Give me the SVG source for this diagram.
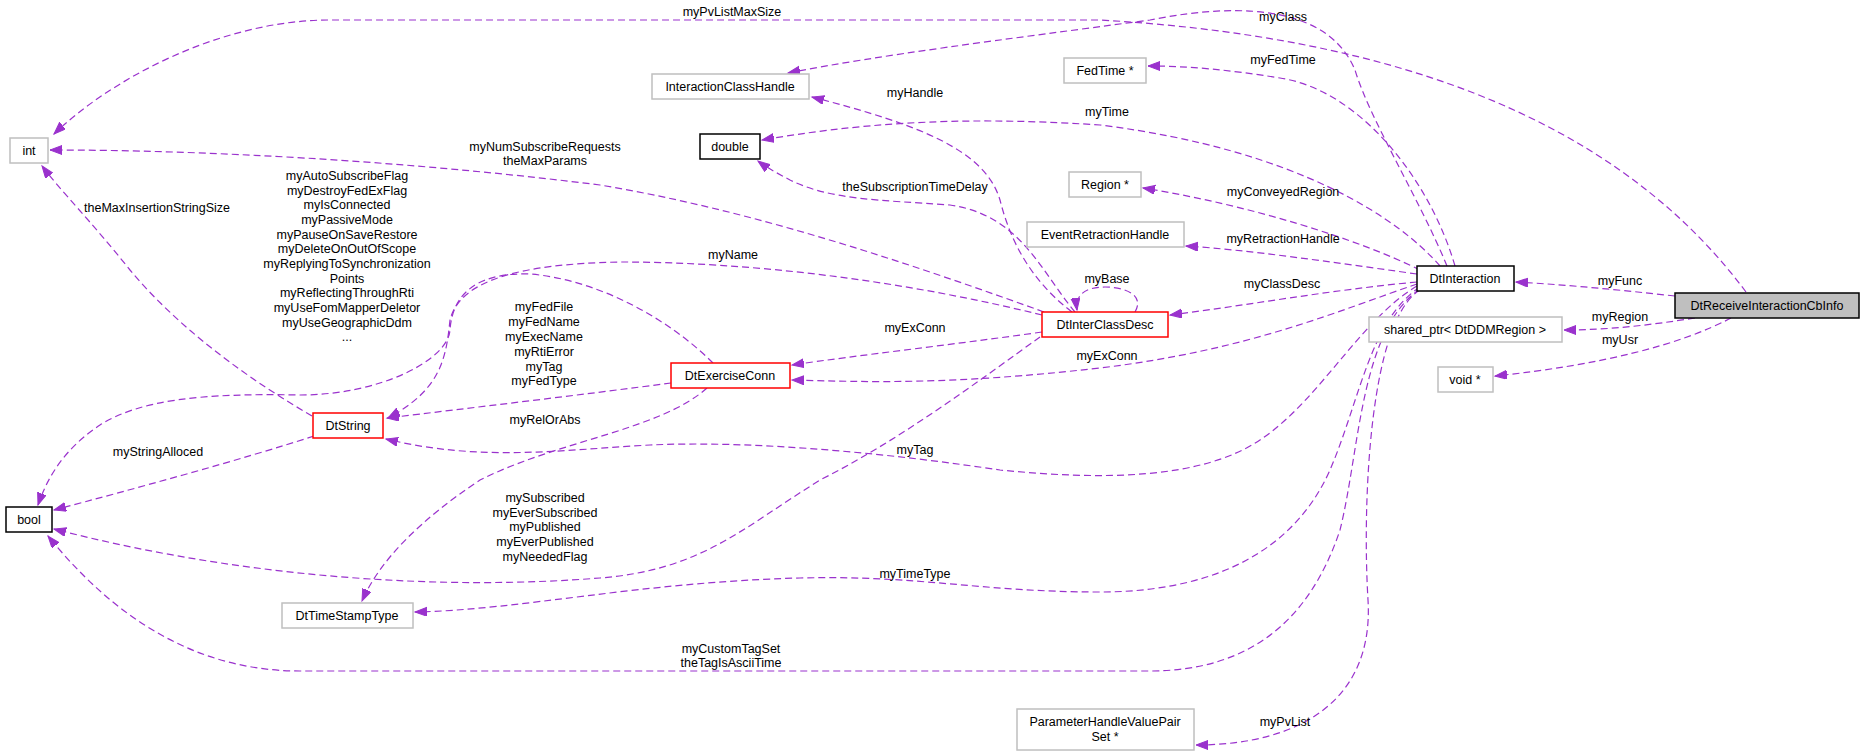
<svg xmlns="http://www.w3.org/2000/svg" width="1864" height="753" viewBox="0 0 1864 753">
<style>
text{font-family:"Liberation Sans",Arial,sans-serif;font-size:12.5px;fill:#000}
.n text{text-anchor:middle}
.l{text-anchor:middle}
.g{fill:#fff;stroke:#bfbfbf;stroke-width:1.5}
.k{fill:#fff;stroke:#000;stroke-width:1.5}
.r{fill:#fff;stroke:#ff0000;stroke-width:1.5}
.e path{fill:none;stroke:#9a32cd;stroke-width:1.2;stroke-dasharray:7,4;marker-end:url(#a)}
</style>
<defs>
<marker id="a" markerUnits="userSpaceOnUse" markerWidth="14" markerHeight="10" refX="12" refY="4.5" orient="auto">
<path d="M0,0 L12,4.5 L0,9 z" fill="#9a32cd" stroke="#9a32cd"/>
</marker>
</defs>
<rect width="1864" height="753" fill="#fff"/>
<g class="e" id="connectors">
<path d="M1746,292 C1640,150 1450,40 1100,20 L330,20 C220,20 110,80 54,134"/>
<path d="M1447,266 C1420,200 1370,120 1355,70 C1330,10 1250,0 1150,20 C1000,40 880,55 788,73"/>
<path d="M1455,266 C1430,180 1360,90 1280,78 C1230,70 1190,66 1148,66"/>
<path d="M1440,266 C1400,220 1300,150 1100,125 C950,115 850,125 762,140"/>
<path d="M1420,270 C1360,240 1250,205 1143,188"/>
<path d="M1417,274 C1330,262 1250,250 1186,246"/>
<path d="M1417,282 C1330,290 1250,305 1170,315"/>
<path d="M1417,284 C1340,310 1250,350 1100,368 C950,385 870,382 792,380"/>
<path d="M1417,286 C1360,320 1320,400 1260,440 C1200,480 1100,480 1000,470 C900,455 760,440 650,445 C560,450 480,462 386,439"/>
<path d="M1420,287 C1370,320 1360,400 1330,470 C1290,560 1200,592 1100,592 C980,592 920,575 800,578 C640,582 520,610 415,612"/>
<path d="M1420,289 C1360,330 1360,450 1340,530 C1310,620 1250,671 1150,671 L300,671 C180,671 100,600 48,536"/>
<path d="M1420,290 C1370,320 1362,500 1368,600 C1374,700 1300,745 1196,745"/>
<path d="M1072,312 C1030,280 1010,240 1000,200 C985,150 920,125 812,97"/>
<path d="M1075,312 C1040,270 1020,215 950,205 C880,200 830,200 790,180 C775,172 766,167 758,161"/>
<path d="M1135,312 C1145,295 1125,287 1105,287 C1085,287 1075,295 1077,310"/>
<path d="M1044,312 C900,260 750,210 600,185 C400,160 200,150 50,150"/>
<path d="M1042,315 C900,280 750,262 620,262 C520,264 460,280 450,320 C446,360 440,390 388,418"/>
<path d="M1042,332 C950,345 860,355 792,365"/>
<path d="M1040,337 C980,380 900,440 820,480 C740,530 700,570 600,578 C450,590 250,580 54,529"/>
<path d="M713,363 C670,320 600,280 530,274 C470,272 452,300 450,330 C448,360 380,395 300,395 C200,393 140,400 100,425 C70,445 50,470 38,505"/>
<path d="M671,383 C580,395 470,408 387,418"/>
<path d="M707,388 C660,430 560,440 480,480 C420,520 380,560 362,601"/>
<path d="M312,416 C250,380 180,330 130,270 C90,220 60,190 42,166"/>
<path d="M314,436 C240,460 130,490 54,510"/>
<path d="M1675,296 C1620,290 1570,285 1516,282"/>
<path d="M1695,318 C1650,325 1610,330 1564,330"/>
<path d="M1731,318 C1680,345 1600,365 1495,376"/>
</g>
<g id="labels" class="l">
<text x="732" y="16" class="l">myPvListMaxSize</text>
<text x="1283" y="21" class="l">myClass</text>
<text x="1283" y="64" class="l">myFedTime</text>
<text x="915" y="97" class="l">myHandle</text>
<text x="1107" y="116" class="l">myTime</text>
<text x="545" y="151" class="l">myNumSubscribeRequests</text>
<text x="545" y="165" class="l">theMaxParams</text>
<text x="915" y="191" class="l">theSubscriptionTimeDelay</text>
<text x="1283" y="196" class="l">myConveyedRegion</text>
<text x="157" y="212" class="l">theMaxInsertionStringSize</text>
<text x="1283" y="243" class="l">myRetractionHandle</text>
<text x="733" y="259" class="l">myName</text>
<text x="1107" y="283" class="l">myBase</text>
<text x="1282" y="288" class="l">myClassDesc</text>
<text x="1620" y="285" class="l">myFunc</text>
<text x="1620" y="321" class="l">myRegion</text>
<text x="1620" y="344" class="l">myUsr</text>
<text x="915" y="332" class="l">myExConn</text>
<text x="1107" y="360" class="l">myExConn</text>
<g class="l">
<text x="347" y="180" class="l">myAutoSubscribeFlag</text>
<text x="347" y="195" class="l">myDestroyFedExFlag</text>
<text x="347" y="209" class="l">myIsConnected</text>
<text x="347" y="224" class="l">myPassiveMode</text>
<text x="347" y="239" class="l">myPauseOnSaveRestore</text>
<text x="347" y="253" class="l">myDeleteOnOutOfScope</text>
<text x="347" y="268" class="l">myReplyingToSynchronization</text>
<text x="347" y="283" class="l">Points</text>
<text x="347" y="297" class="l">myReflectingThroughRti</text>
<text x="347" y="312" class="l">myUseFomMapperDeletor</text>
<text x="347" y="327" class="l">myUseGeographicDdm</text>
<text x="347" y="341" class="l">...</text>
</g>
<text x="544" y="311" class="l">myFedFile</text>
<text x="544" y="326" class="l">myFedName</text>
<text x="544" y="341" class="l">myExecName</text>
<text x="544" y="356" class="l">myRtiError</text>
<text x="544" y="371" class="l">myTag</text>
<text x="544" y="385" class="l">myFedType</text>
<text x="545" y="424" class="l">myRelOrAbs</text>
<text x="158" y="456" class="l">myStringAlloced</text>
<text x="915" y="454" class="l">myTag</text>
<text x="545" y="502" class="l">mySubscribed</text>
<text x="545" y="517" class="l">myEverSubscribed</text>
<text x="545" y="531" class="l">myPublished</text>
<text x="545" y="546" class="l">myEverPublished</text>
<text x="545" y="561" class="l">myNeededFlag</text>
<text x="915" y="578" class="l">myTimeType</text>
<text x="731" y="653" class="l">myCustomTagSet</text>
<text x="731" y="667" class="l">theTagIsAsciiTime</text>
<text x="1285" y="726" class="l">myPvList</text>
</g>
<g class="n" id="DtReceiveInteractionCbInfo"><rect x="1675" y="293" width="184" height="25" fill="#bfbfbf" stroke="#000" stroke-width="1.5"/><text x="1767" y="310">DtReceiveInteractionCbInfo</text></g>
<g class="n" id="DtInteraction"><rect class="k" x="1417" y="266" width="97" height="25"/><text x="1465" y="283">DtInteraction</text></g>
<g class="n" id="int"><rect class="g" x="10" y="138" width="38" height="25"/><text x="29" y="155">int</text></g>
<g class="n" id="InteractionClassHandle"><rect class="g" x="652" y="74" width="157" height="25"/><text x="730" y="91">InteractionClassHandle</text></g>
<g class="n" id="FedTime"><rect class="g" x="1064" y="58" width="82" height="25"/><text x="1105" y="75">FedTime *</text></g>
<g class="n" id="double"><rect class="k" x="700" y="134" width="60" height="25"/><text x="730" y="151">double</text></g>
<g class="n" id="Region"><rect class="g" x="1069" y="172" width="72" height="25"/><text x="1105" y="189">Region *</text></g>
<g class="n" id="EventRetractionHandle"><rect class="g" x="1027" y="222" width="157" height="25"/><text x="1105" y="239">EventRetractionHandle</text></g>
<g class="n" id="DtInterClassDesc"><rect class="r" x="1042" y="312" width="126" height="25"/><text x="1105" y="329">DtInterClassDesc</text></g>
<g class="n" id="shared_ptr"><rect class="g" x="1369" y="317" width="193" height="25"/><text x="1465" y="334">shared_ptr&lt; DtDDMRegion &gt;</text></g>
<g class="n" id="void"><rect class="g" x="1438" y="367" width="55" height="25"/><text x="1465" y="384">void *</text></g>
<g class="n" id="DtExerciseConn"><rect class="r" x="671" y="363" width="119" height="25"/><text x="730" y="380">DtExerciseConn</text></g>
<g class="n" id="DtString"><rect class="r" x="313" y="413" width="70" height="25"/><text x="348" y="430">DtString</text></g>
<g class="n" id="bool"><rect class="k" x="6" y="507" width="46" height="25"/><text x="29" y="524">bool</text></g>
<g class="n" id="DtTimeStampType"><rect class="g" x="282" y="603" width="131" height="25"/><text x="347" y="620">DtTimeStampType</text></g>
<g class="n" id="ParameterHandleValuePairSet"><rect class="g" x="1017" y="709" width="177" height="41"/><text x="1105" y="726">ParameterHandleValuePair</text><text x="1105" y="741">Set *</text></g>
</svg>
